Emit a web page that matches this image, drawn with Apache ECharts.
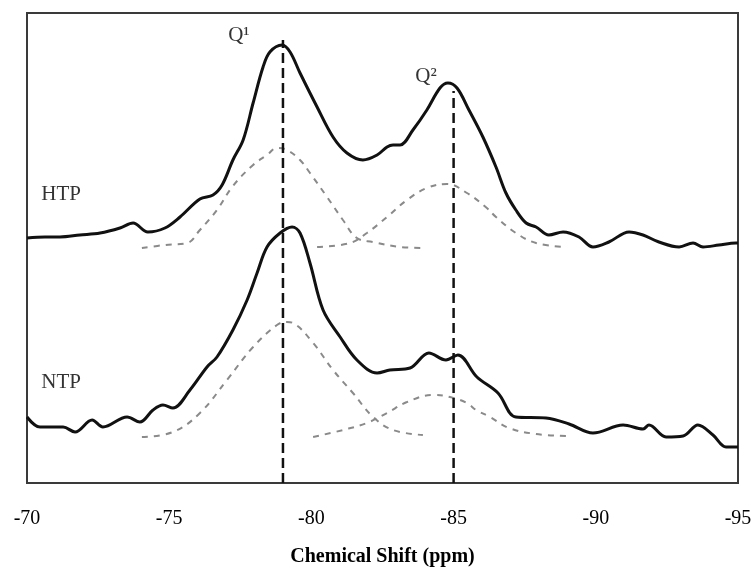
<!DOCTYPE html>
<html>
<head>
<meta charset="utf-8">
<script src="https://cdn.jsdelivr.net/npm/echarts@6/dist/echarts.min.js"></script>
<style>html,body{margin:0;padding:0;background:#fff}#c{width:756px;height:568px}</style>
</head>
<body>
<div id="c"></div>
<script>
// x: chemical shift (ppm), y: intensity (arbitrary units)
var htpSpectrum = [
[-70.00,245],[-70.63,246],[-71.16,246],[-71.86,248],[-72.57,250],[-73.27,255],[-73.73,260],[-74.25,251],
[-74.85,255],[-75.38,266],[-76.08,284],[-76.54,288],[-76.86,298],[-77.24,323],[-77.60,343],[-77.95,380],
[-78.30,416],[-78.54,431],[-78.97,438],[-79.25,431],[-79.60,410],[-80.20,376],[-80.76,346],[-81.25,330],
[-81.81,323],[-82.31,328],[-82.66,336],[-82.87,338],[-83.12,338],[-83.57,353],[-84.06,373],[-84.52,395],
[-84.80,400],[-85.12,395],[-85.54,373],[-86.03,346],[-86.49,316],[-86.84,290],[-87.19,273],[-87.55,260],
[-87.90,256],[-88.35,248],[-88.85,251],[-89.41,246],[-89.90,236],[-90.46,241],[-91.17,251],[-91.66,248],
[-92.22,241],[-92.93,236],[-93.42,240],[-93.77,236],[-94.33,238],[-94.93,240],[-95.00,240]
];
var htpQ1Fit = [
[-74.04,235],[-74.85,238],[-75.63,240],[-76.08,253],[-76.68,273],[-77.24,297],[-77.95,318],[-78.44,328],
[-78.79,335],[-79.14,333],[-79.60,323],[-79.95,310],[-80.55,286],[-81.11,263],[-81.60,245],[-82.17,241],
[-83.12,236],[-83.92,235]
];
var htpQ2Fit = [
[-80.20,236],[-81.36,240],[-81.95,250],[-82.66,266],[-83.36,283],[-84.06,295],[-84.77,299],[-85.47,290],
[-86.17,275],[-86.49,266],[-87.19,250],[-87.90,240],[-88.95,236]
];
var ntpSpectrum = [
[-70.00,66],[-70.46,56],[-71.27,56],[-71.69,51],[-72.29,63],[-72.67,56],[-73.52,66],[-73.97,61],
[-74.43,73],[-74.78,78],[-75.13,75],[-75.73,93],[-76.33,116],[-76.68,126],[-77.24,153],[-77.74,183],
[-78.09,210],[-78.44,236],[-78.90,250],[-79.32,256],[-79.60,250],[-79.95,220],[-80.41,173],[-81.01,146],
[-81.60,123],[-82.31,110],[-82.76,113],[-83.47,115],[-84.13,130],[-84.73,123],[-85.15,128],[-85.82,106],
[-86.56,90],[-87.19,66],[-88.25,65],[-89.06,59],[-89.90,50],[-90.96,58],[-91.66,54],[-91.87,58],
[-92.47,46],[-93.07,47],[-93.59,58],[-94.12,48],[-94.58,36],[-95.00,36]
];
var ntpQ1Fit = [
[-74.04,46],[-75.13,51],[-76.08,70],[-77.03,103],[-77.95,136],[-78.79,158],[-79.14,161],[-79.35,160],
[-80.06,140],[-80.76,113],[-81.46,90],[-82.17,66],[-82.87,53],[-83.92,48]
];
var ntpQ2Fit = [
[-80.06,46],[-81.11,53],[-81.95,60],[-82.66,70],[-83.36,81],[-84.28,88],[-84.87,86],[-85.47,80],
[-85.79,73],[-86.28,66],[-86.95,55],[-87.90,49],[-88.95,47]
];
var q1Line = [[-79,0],[-79,443]];
var q2Line = [[-85,0],[-85,392]];
var annotations = [
  {name:'Q\u00B9', value:[-77.45,448]},
  {name:'Q\u00B2', value:[-84.03,407]},
  {name:'HTP', value:[-71.20,289]},
  {name:'NTP', value:[-71.20,101]}
];
var xTicks = {min:-95, max:-70, interval:5};

var serif = '"Liberation Serif","DejaVu Serif",serif';
var chart = echarts.init(document.getElementById('c'), null, {renderer:'canvas'});
function solid(d){return {type:'line',data:d,showSymbol:false,smooth:0.35,lineStyle:{color:'#111',width:3},z:3,silent:true};}
function fit(d){return {type:'line',data:d,showSymbol:false,smooth:0.4,lineStyle:{color:'#8a8a8a',width:2,type:[6,6]},z:2,silent:true};}
function vline(d){return {type:'line',data:d,showSymbol:false,lineStyle:{color:'#111',width:2.5,type:[10,5]},z:4,silent:true};}
chart.setOption({
  animation:false,
  backgroundColor:'#fff',
  grid:{left:27,right:18,top:13,bottom:85,containLabel:false,outerBoundsMode:'none',show:true,borderColor:'#3a3a3a',borderWidth:2,backgroundColor:'transparent'},
  xAxis:{type:'value',inverse:true,min:xTicks.min,max:xTicks.max,interval:xTicks.interval,
    axisLine:{show:false},axisTick:{show:false},splitLine:{show:false},
    axisLabel:{margin:26,fontFamily:serif,fontSize:20,color:'#000'},
    name:'Chemical Shift (ppm)',nameLocation:'middle',nameGap:64,
    nameTextStyle:{fontFamily:serif,fontSize:20,fontWeight:'bold',color:'#000'}},
  yAxis:{type:'value',min:0,max:470,show:false},
  series:[
    fit(htpQ1Fit),fit(htpQ2Fit),fit(ntpQ1Fit),fit(ntpQ2Fit),
    solid(htpSpectrum),solid(ntpSpectrum),
    vline(q1Line),vline(q2Line),
    {type:'scatter',data:annotations,symbolSize:0,silent:true,z:5,
     label:{show:true,position:'inside',formatter:function(p){return p.name;},fontFamily:serif,fontSize:21,color:'#000'}}
  ]
});
</script>
</body>
</html>
